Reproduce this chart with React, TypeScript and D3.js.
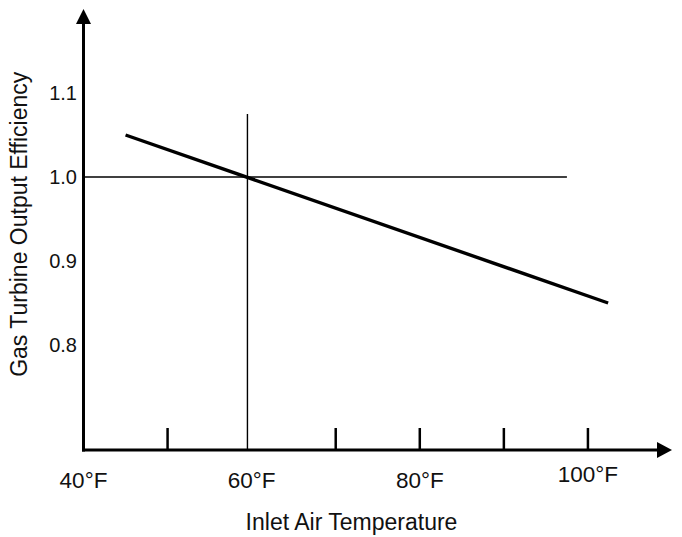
import React from "react";
import * as d3 from "d3";

// ---- data ----
const xTickValues = [50, 70, 80, 90, 100];
const xLabelValues = [40, 60, 80, 100];
const xLabels = ["40°F", "60°F", "80°F", "100°F"];
const yTickValues = [1.1, 1.0, 0.9, 0.8];
const yLabels = ["1.1", "1.0", "0.9", "0.8"];
const lineTemps = [45, 102.4];
const lineValues = [1.05, 0.85];
const refTemp = 59.5;
const refValue = 1.0;
const refLineTempEnd = 97.5;
const refLineValueTop = 1.075;
const xDomain = [40, 110];
const yDomain = [0.675, 1.2];

const W = 682;
const H = 537;
const FONT = "'Liberation Sans', Arial, Helvetica, sans-serif";

export default function App() {
  const x = d3.scaleLinear().domain(xDomain).range([83.5, 672]);
  const y = d3.scaleLinear().domain(yDomain).range([450, 9]);

  const x0 = x(xDomain[0]);
  const y0 = y(yDomain[0]);
  const xTip = x(xDomain[1]);
  const yTip = y(yDomain[1]);
  const arrow = 15;

  const line = d3
    .line<number>()
    .x((_, i) => x(lineTemps[i]))
    .y((v) => y(v));

  return (
    <svg
      width={W}
      height={H}
      viewBox={`0 0 ${W} ${H}`}
      style={{ position: "fixed", left: 0, top: 0, background: "#fff" }}
      fontFamily={FONT}
    >
      <rect x={0} y={0} width={W} height={H} fill="#fff" />
      {/* reference lines */}
      <line
        x1={x0}
        x2={x(refLineTempEnd)}
        y1={y(refValue)}
        y2={y(refValue)}
        stroke="#000"
        strokeWidth={1.4}
      />
      <line
        x1={x(refTemp)}
        x2={x(refTemp)}
        y1={y0}
        y2={y(refLineValueTop)}
        stroke="#000"
        strokeWidth={1.4}
      />
      {/* data line */}
      <path d={line(lineValues) || ""} fill="none" stroke="#000" strokeWidth={3.4} />

      {/* axes */}
      <line x1={x0} x2={x0} y1={y0 + 1.5} y2={yTip + arrow - 1} stroke="#000" strokeWidth={3} />
      <path
        d={`M${x0},${yTip} L${x0 - 7.5},${yTip + arrow} L${x0 + 7.5},${yTip + arrow} Z`}
        fill="#000"
      />
      <line x1={x0 - 1.5} x2={xTip - arrow + 1} y1={y0} y2={y0} stroke="#000" strokeWidth={3} />
      <path
        d={`M${xTip},${y0} L${xTip - arrow},${y0 - 8} L${xTip - arrow},${y0 + 8} Z`}
        fill="#000"
      />

      {/* x ticks */}
      {xTickValues.map((t) => (
        <line key={t} x1={x(t)} x2={x(t)} y1={y0} y2={y0 - 22} stroke="#000" strokeWidth={2.5} />
      ))}
      {xLabelValues.map((t, i) => (
        <text
          key={t}
          x={x(t)}
          y={i === xLabelValues.length - 1 ? 482 : 488}
          textAnchor="middle"
          fontSize={22.5}
          fill="#111"
        >
          {xLabels[i]}
        </text>
      ))}

      {/* y tick labels */}
      {yTickValues.map((v, i) => (
        <text
          key={v}
          x={77}
          y={y(v)}
          dy="0.35em"
          textAnchor="end"
          fontSize={20}
          fill="#111"
        >
          {yLabels[i]}
        </text>
      ))}

      {/* axis titles */}
      <text x={351.5} y={530} textAnchor="middle" fontSize={23} fill="#111">
        Inlet Air Temperature
      </text>
      <text
        transform={`translate(26.7,224.3) rotate(-90)`}
        textAnchor="middle"
        fontSize={23}
        fill="#111"
      >
        Gas Turbine Output Efficiency
      </text>
    </svg>
  );
}
